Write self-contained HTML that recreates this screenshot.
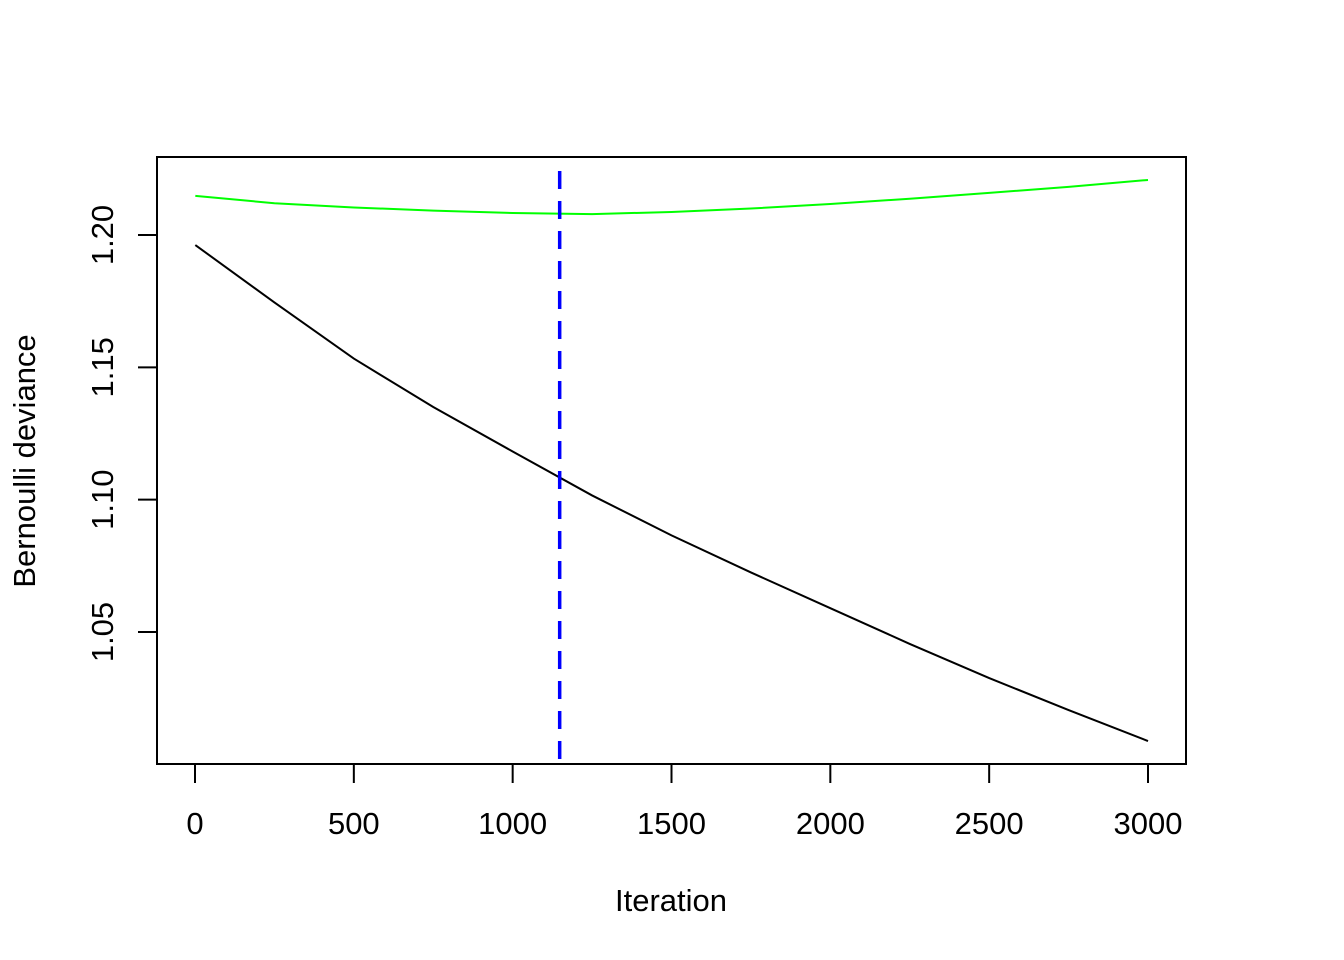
<!DOCTYPE html>
<html><head><meta charset="utf-8"><style>
body{margin:0;background:#fff;}
svg{display:block;font-family:"Liberation Sans",Arial,sans-serif;}
</style></head><body>
<svg id="c" width="1344" height="960" xmlns="http://www.w3.org/2000/svg"></svg>
<script>
const iters=[1,250,500,750,1000,1250,1500,1750,2000,2250,2500,2750,3000];
const trainDev=[1.1962,1.1745,1.1533,1.1350,1.1182,1.1016,1.0865,1.0725,1.0590,1.0455,1.0326,1.0205,1.0088];
const validDev=[1.2148,1.2120,1.2104,1.2092,1.2083,1.2079,1.2087,1.2100,1.2117,1.2137,1.2159,1.2182,1.2208];
const bestIter=[1148];
const xTicks=[0,500,1000,1500,2000,2500,3000];
const yTicks=[1.05,1.10,1.15,1.20];
const yTickLabels=["1.05","1.10","1.15","1.20"];

const NS="http://www.w3.org/2000/svg";
const svg=document.getElementById('c');
const X=v=>195+v*(953/3000);
const Y=v=>235+(1.20-v)*(397/0.15);
function mk(t,a,p){const e=document.createElementNS(NS,t);for(const k in a)e.setAttribute(k,a[k]);(p||svg).appendChild(e);return e;}

const box=mk('rect',{x:157,y:157,width:1029,height:607,fill:'none',stroke:'#000','stroke-width':2});



const xa=mk('g',{});


mk('line',{x1:X(0),x2:X(3000),y1:764,y2:764,stroke:'#000','stroke-width':2},xa);
xTicks.forEach(t=>{
  mk('line',{x1:X(t),x2:X(t),y1:764,y2:783,stroke:'#000','stroke-width':2},xa);
  const tx=mk('text',{x:X(t),y:834,'font-size':31,'text-anchor':'middle'},xa);
  tx.textContent=t;
  
  
});
const ya=mk('g',{});


mk('line',{x1:157,x2:157,y1:Y(1.05),y2:Y(1.20),stroke:'#000','stroke-width':2},ya);
yTicks.forEach((t,i)=>{
  mk('line',{x1:138,x2:157,y1:Y(t),y2:Y(t),stroke:'#000','stroke-width':2},ya);
  const tx=mk('text',{x:0,y:0,'font-size':31,'text-anchor':'middle',transform:`translate(113,${Y(t)}) rotate(-90)`},ya);
  tx.textContent=yTickLabels[i];
  
  
});
const xt=mk('text',{x:671,y:911,'font-size':31,'text-anchor':'middle'});
xt.textContent='Iteration';


const yt=mk('text',{x:0,y:0,'font-size':31,'text-anchor':'middle',transform:'translate(35,461) rotate(-90)'});
yt.textContent='Bernoulli deviance';



function line(xs,ys,col,name){
  const p=mk('polyline',{points:xs.map((x,i)=>X(x)+','+Y(ys[i])).join(' '),fill:'none',stroke:col,'stroke-width':2});
  
  
}
line(iters,trainDev,'#000','training-deviance-line');
line(iters,validDev,'#00ff00','validation-deviance-line');
const bl=mk('line',{x1:X(bestIter[0]),x2:X(bestIter[0]),y1:171,y2:764,stroke:'#0000ff','stroke-width':3.5,'stroke-dasharray':'18 12'});


</script>
</body></html>
